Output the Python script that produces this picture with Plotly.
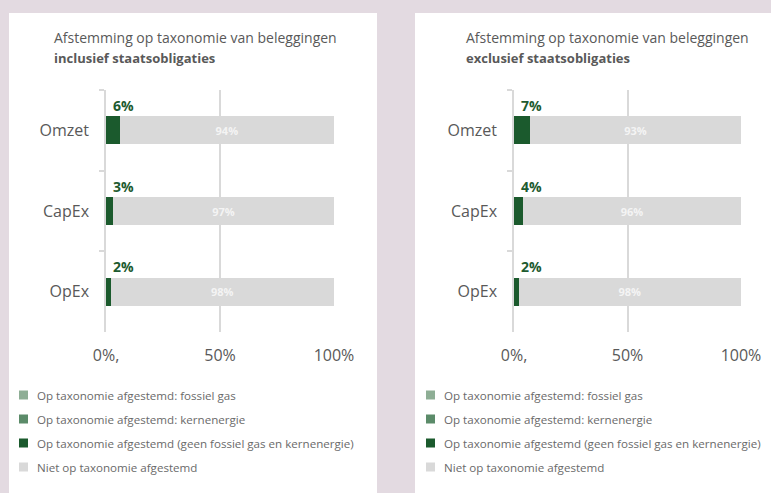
import plotly.graph_objects as go

categories = ["Omzet", "CapEx", "OpEx"]
series_names = [
    "Op taxonomie afgestemd: fossiel gas",
    "Op taxonomie afgestemd: kernenergie",
    "Op taxonomie afgestemd (geen fossiel gas en kernenergie)",
    "Niet op taxonomie afgestemd",
]
series_colors = ["#8eae95", "#5b8b69", "#1b5a2d", "#d9d9d9"]

incl_fossil = [0, 0, 0]
incl_nuclear = [0, 0, 0]
incl_aligned = [0.06, 0.03, 0.02]
incl_not = [0.94, 0.97, 0.98]

excl_fossil = [0, 0, 0]
excl_nuclear = [0, 0, 0]
excl_aligned = [0.07, 0.04, 0.02]
excl_not = [0.93, 0.96, 0.98]

tick_vals = [0, 0.5, 1]
tick_text = ["0%,", "50%", "100%"]

title_line1 = "Afstemming op taxonomie van beleggingen"
title_line2 = ["inclusief staatsobligaties", "exclusief staatsobligaties"]

FONT = "Open Sans"
GREY_TXT = "#595959"
W, H = 771, 493

fig = go.Figure()

panels = [
    ("x", "y", [incl_fossil, incl_nuclear, incl_aligned, incl_not]),
    ("x2", "y2", [excl_fossil, excl_nuclear, excl_aligned, excl_not]),
]

for xa, ya, vals in panels:
    for i, (name, col, v) in enumerate(zip(series_names, series_colors, vals)):
        is_not = i == 3
        fig.add_trace(go.Bar(
            x=v, y=categories, orientation="h", name=name,
            marker=dict(color=col, line=dict(width=0)),
            xaxis=xa, yaxis=ya, showlegend=False,
            width=0.35,
            text=[f"{round(t*100)}%" for t in v] if is_not else None,
            textposition="inside" if is_not else "none",
            insidetextanchor="middle",
            textfont=dict(family=FONT, size=11, color="#f4f4f4", weight="bold"),
            hoverinfo="skip",
        ))
    # labels above the aligned bars
    for c, v in zip(categories, vals[2]):
        fig.add_annotation(
            x=0, y=c, xref=xa, yref=ya, text=f"<b>{round(v*100)}%</b>",
            showarrow=False, xanchor="left", yanchor="middle",
            xshift=5, yshift=25,
            font=dict(family=FONT, size=14, color="#1e5b30"),
        )

axis_common = dict(
    range=[0, 1], tickvals=tick_vals, ticktext=tick_text,
    showgrid=True, gridcolor="#d9d9d9", gridwidth=1.5,
    zeroline=False, showline=False, ticks="",
    tickfont=dict(family=FONT, size=16, color=GREY_TXT),
    ticklabelstandoff=12, fixedrange=True, automargin=False,
)
yaxis_common = dict(
    autorange="reversed", showgrid=False, zeroline=False,
    showline=True, linecolor="#d9d9d9", linewidth=1.5,
    ticks="outside", tickson="boundaries", ticklen=5, tickcolor="#d9d9d9",
    tickwidth=1.5,
    tickfont=dict(family=FONT, size=16, color=GREY_TXT),
    ticklabelstandoff=12, automargin=False,
)

y_dom = [1 - 332 / H, 1 - 90 / H]

shapes = [
    dict(type="rect", xref="paper", yref="paper", x0=9 / W, x1=377 / W,
         y0=0, y1=1 - 13 / H, fillcolor="white", line=dict(width=0), layer="below"),
    dict(type="rect", xref="paper", yref="paper", x0=415 / W, x1=1,
         y0=0, y1=1 - 13 / H, fillcolor="white", line=dict(width=0), layer="below"),
]

# manual legends (one per panel)
legend_x = [19, 426]
legend_y0 = 395
legend_step = 24
for lx in legend_x:
    for i, (name, col) in enumerate(zip(series_names, series_colors)):
        cy = legend_y0 + i * legend_step
        shapes.append(dict(
            type="rect", xref="paper", yref="paper",
            x0=lx / W, x1=(lx + 9) / W, y0=1 - (cy + 4.5) / H, y1=1 - (cy - 4.5) / H,
            fillcolor=col, line=dict(width=0),
        ))
        fig.add_annotation(
            x=(lx + 16) / W, y=1 - cy / H, xref="paper", yref="paper",
            text=name, showarrow=False, xanchor="left", yanchor="middle",
            font=dict(family=FONT, size=11.6, color="#6a6a6a"),
        )

fig.update_layout(
    width=W, height=H,
    margin=dict(l=0, r=0, t=0, b=0),
    paper_bgcolor="#e3dae1",
    plot_bgcolor="rgba(0,0,0,0)",
    barmode="stack",
    xaxis=dict(domain=[106 / W, 334 / W], anchor="y", **axis_common),
    xaxis2=dict(domain=[514 / W, 741 / W], anchor="y2", **axis_common),
    yaxis=dict(domain=y_dom, anchor="x", **yaxis_common),
    yaxis2=dict(domain=y_dom, anchor="x2", **yaxis_common),
    shapes=shapes,
    showlegend=False,
)

for xp, sub in zip([52 / W, 464 / W], title_line2):
    fig.add_annotation(
        x=xp, y=1 - 38 / H, xref="paper", yref="paper", text=title_line1,
        showarrow=False, xanchor="left", yanchor="middle", align="left",
        font=dict(family=FONT, size=14, color=GREY_TXT),
    )
    fig.add_annotation(
        x=xp, y=1 - 58 / H, xref="paper", yref="paper", text=f"<b>{sub}</b>",
        showarrow=False, xanchor="left", yanchor="middle", align="left",
        font=dict(family=FONT, size=13, color=GREY_TXT),
    )

fig.write_html(
    "out.html",
    config={"displayModeBar": False},
    post_script="document.body.style.margin='0';document.body.style.overflow='hidden';",
)
